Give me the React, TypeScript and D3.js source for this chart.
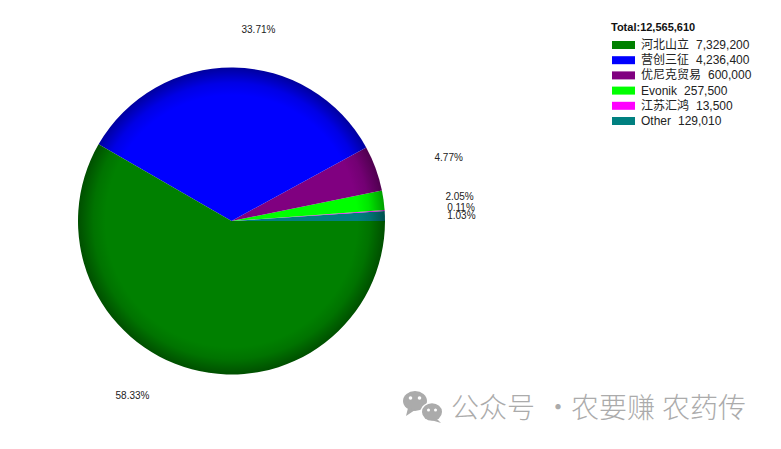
import { useMemo } from "react";
import * as d3 from "d3";

// Pie of supplier volumes, counter-clockwise from 3 o'clock, with a radial edge shade.

const names = ["河北山立", "营创三征", "优尼克贸易", "Evonik", "江苏汇鸿", "Other"];
const values = [7329200, 4236400, 600000, 257500, 13500, 129010];
const colors = ["#008000", "#0000ff", "#800080", "#00ff00", "#ff00ff", "#008080"];
// drawing order around the pie (CCW from east): Other, 江苏汇鸿, Evonik, 优尼克贸易, 营创三征, 河北山立
const drawOrder = [5, 4, 3, 2, 1, 0];

const W = 781;
const H = 449;
const CX = 231.5;
const CY = 221;
const R = 153.5;
const LABEL_RX = 230;
const LABEL_RY = 193;

const FONT = "'Liberation Sans', Arial, 'Noto Sans CJK SC', sans-serif";
const CJK = "'Noto Sans CJK SC', sans-serif";

function shade(c: string, k: number) {
  const col = d3.rgb(c);
  return d3.rgb(col.r * k, col.g * k, col.b * k).formatHex();
}

export default function App() {
  const total = d3.sum(values);
  const fmt = d3.format(",");

  const arcs = useMemo(() => {
    const pie = d3
      .pie<number>()
      .sort(null)
      .value((i) => values[i])
      .startAngle(Math.PI / 2)
      .endAngle(Math.PI / 2 - 2 * Math.PI);
    return pie(drawOrder);
  }, []);

  const arc = d3.arc<d3.PieArcDatum<number>>().innerRadius(0).outerRadius(R);

  return (
    <div style={{ position: "absolute", left: 0, top: 0 }}>
      <svg width={W} height={H} style={{ display: "block", background: "#fff" }}>
        <defs>
          {colors.map((c, i) => (
            <radialGradient key={i} id={`g${i}`} gradientUnits="userSpaceOnUse" cx={0} cy={0} r={R}>
              <stop offset="0" stopColor={c} />
              <stop offset="0.82" stopColor={c} />
              <stop offset="0.9" stopColor={shade(c, 0.9)} />
              <stop offset="1" stopColor={shade(c, 0.62)} />
            </radialGradient>
          ))}
        </defs>

        <g transform={`translate(${CX},${CY})`}>
          {arcs.map((a) => (
            <path key={a.data} d={arc(a) ?? ""} fill={`url(#g${a.data})`} />
          ))}
        </g>

        {arcs.map((a) => {
          const t = a.startAngle + 0.45 * (a.endAngle - a.startAngle);
          const x = CX + LABEL_RX * Math.sin(t);
          const y = CY - LABEL_RY * Math.cos(t);
          return (
            <text
              key={a.data}
              x={x}
              y={y}
              textAnchor="middle"
              dominantBaseline="central"
              fontSize={10}
              fontFamily={FONT}
              fill="#222"
            >
              {((values[a.data] / total) * 100).toFixed(2)}%
            </text>
          );
        })}

        {/* legend */}
        <text x={611} y={31} fontSize={11} fontWeight="bold" fontFamily={FONT} fill="#111">
          Total:{fmt(total)}
        </text>
        {names.map((n, i) => {
          const y = 45 + i * 15.2;
          return (
            <g key={n}>
              <rect x={612} y={y - 4} width={23} height={8} fill={colors[i]} />
              <text x={641} y={y} dominantBaseline="central" fontSize={12} fontFamily={FONT} fill="#222">
                {n}
                <tspan dx={7}>{fmt(values[i])}</tspan>
              </text>
            </g>
          );
        })}

        {/* watermark */}
        <g fill="#ababab">
          <ellipse cx={415} cy={401} rx={12} ry={10} />
          <path d="M408,408 L406,416 L415,410 Z" />
          <ellipse cx={432} cy={412} rx={11.5} ry={10} fill="#fff" />
          <ellipse cx={432} cy={412} rx={10} ry={8.7} />
          <path d="M436,418 L441,423 L431,420 Z" />
          <circle cx={410.5} cy={398} r={1.8} fill="#fff" />
          <circle cx={419.5} cy={398} r={1.8} fill="#fff" />
          <circle cx={428.5} cy={410} r={1.5} fill="#fff" />
          <circle cx={435.5} cy={410} r={1.5} fill="#fff" />
        </g>
        <g fontSize={28} fontFamily={CJK} fontWeight={300} fill="#ababab" dominantBaseline="central">
          <text x={451} y={406}>公众号</text>
          <text x={558} y={406} textAnchor="middle">·</text>
          <text x={571} y={406}>农要赚</text>
          <text x={662} y={406}>农药传</text>
        </g>
      </svg>
    </div>
  );
}
